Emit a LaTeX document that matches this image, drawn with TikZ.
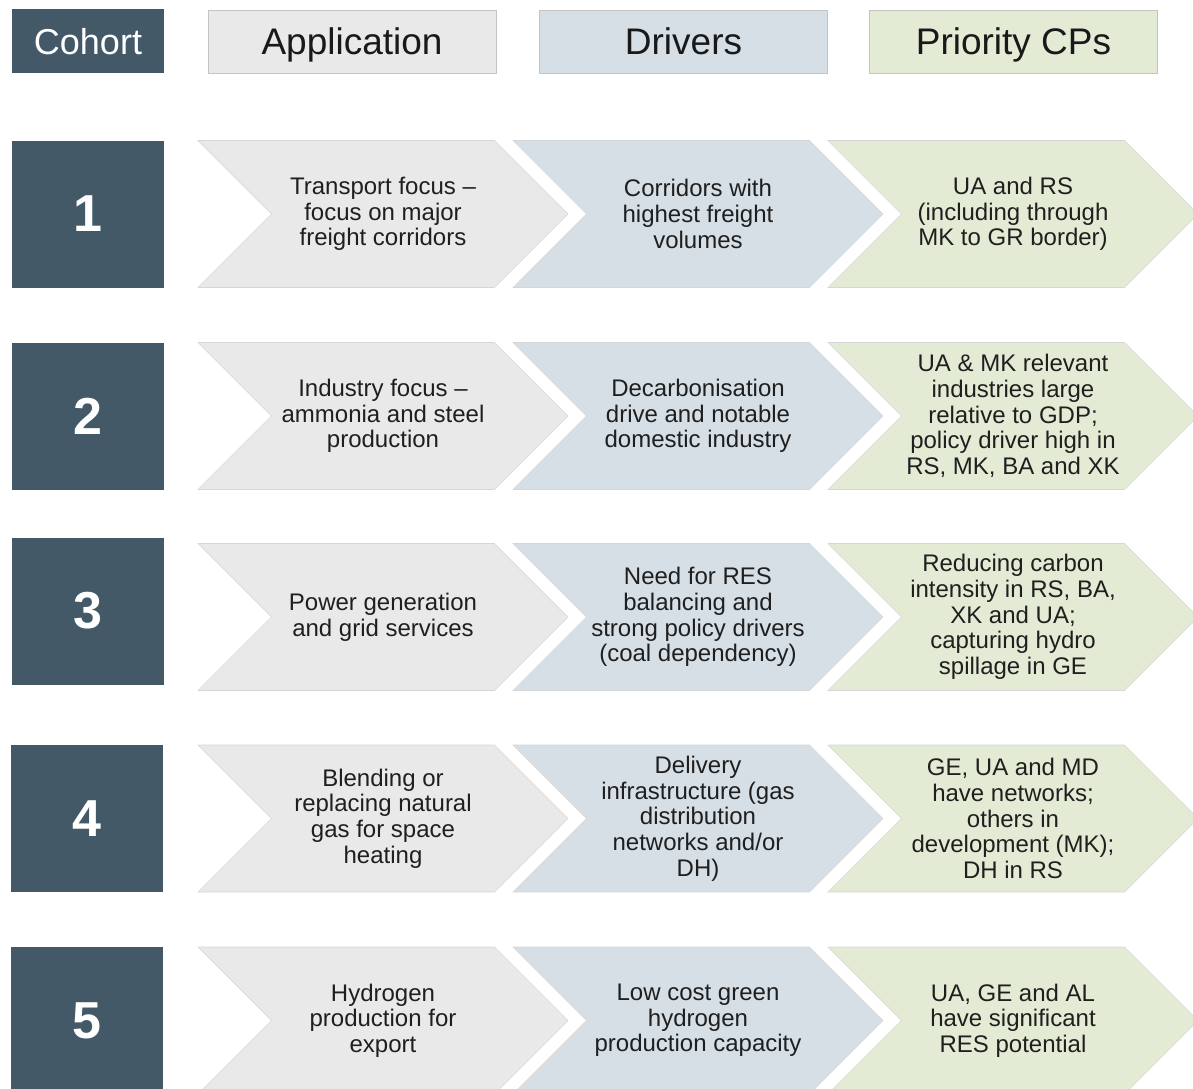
\documentclass[tikz,border=0pt]{standalone}
\usepackage{fontspec}
\setmainfont{Liberation Sans}
\usetikzlibrary{shapes.symbols}
\definecolor{cohortslate}{RGB}{67,89,104}
\definecolor{appgray}{RGB}{233,233,233}
\definecolor{drvblue}{RGB}{214,223,230}
\definecolor{cpgreen}{RGB}{227,235,213}
\definecolor{edgegray}{RGB}{196,196,196}
\tikzset{
  headbox/.style={draw=edgegray, line width=0.8pt, minimum width=288pt, minimum height=63pt,
    inner sep=0pt, text height=26.5pt, text depth=0pt, text=black!90, font=\fontsize{37}{40}\selectfont},
  cohortbox/.style={fill=cohortslate, text=white, minimum width=152pt, minimum height=147pt,
    inner sep=0pt, font=\fontsize{52}{56}\selectfont\bfseries},
  chevron/.style={signal, signal from=west, signal to=east, signal pointer angle=90,
    draw=edgegray!70, line width=0.6pt, minimum width=370pt, minimum height=147pt,
    inner sep=0pt, align=center, text=black!88, font=\fontsize{24}{25.7}\selectfont},
  appchev/.style={chevron, fill=appgray},
  drvchev/.style={chevron, fill=drvblue},
  cpchev/.style={chevron, fill=cpgreen}
}
\begin{document}
\begin{tikzpicture}[x=1pt,y=-1pt]
    \useasboundingbox (0,0) rectangle (1193,1088);
    % header row
    \node[headbox, fill=cohortslate, draw=none, text=white, minimum width=152pt, minimum height=64pt, font=\fontsize{36}{40}\selectfont] (cohort) at (88,41) {Cohort};
    \node[headbox, fill=appgray] (application) at (352,41.5) {Application};
    \node[headbox, fill=drvblue] (drivers) at (683.5,41.5) {Drivers};
    \node[headbox, fill=cpgreen] (priority) at (1013.5,41.5) {Priority CPs};
    % cohort 1
    \node[cohortbox] (c1) at (88,214) {1};
    \node[appchev] (app1) at (383,214) {Transport focus --\\focus on major\\freight corridors};
    \node[drvchev] (drv1) at (698,214) {Corridors with\\highest freight\\volumes};
    \node[cpchev] (cp1) at (1013,214) {UA and RS\\(including through\\MK to GR border)};
    % cohort 2
    \node[cohortbox] (c2) at (88,416) {2};
    \node[appchev] (app2) at (383,416) {Industry focus --\\ammonia and steel\\production};
    \node[drvchev] (drv2) at (698,416) {Decarbonisation\\drive and notable\\domestic industry};
    \node[cpchev] (cp2) at (1013,416) {UA \& MK relevant\\industries large\\relative to GDP;\\policy driver high in\\RS, MK, BA and XK};
    % cohort 3
    \node[cohortbox] (c3) at (88,611) {3};
    \node[appchev] (app3) at (383,617) {Power generation\\and grid services};
    \node[drvchev] (drv3) at (698,617) {Need for RES\\balancing and\\strong policy drivers\\(coal dependency)};
    \node[cpchev] (cp3) at (1013,617) {Reducing carbon\\intensity in RS, BA,\\XK and UA;\\capturing hydro\\spillage in GE};
    % cohort 4
    \node[cohortbox] (c4) at (87,818.5) {4};
    \node[appchev] (app4) at (383,818.5) {Blending or\\replacing natural\\gas for space\\heating};
    \node[drvchev] (drv4) at (698,818.5) {Delivery\\infrastructure (gas\\distribution\\networks and/or\\DH)};
    \node[cpchev] (cp4) at (1013,818.5) {GE, UA and MD\\have networks;\\others in\\development (MK);\\DH in RS};
    % cohort 5
    \node[cohortbox] (c5) at (87,1020.5) {5};
    \node[appchev] (app5) at (383,1020.5) {Hydrogen\\production for\\export};
    \node[drvchev] (drv5) at (698,1020.5) {Low cost green\\hydrogen\\production capacity};
    \node[cpchev] (cp5) at (1013,1020.5) {UA, GE and AL\\have significant\\RES potential};
\end{tikzpicture}
\end{document}
